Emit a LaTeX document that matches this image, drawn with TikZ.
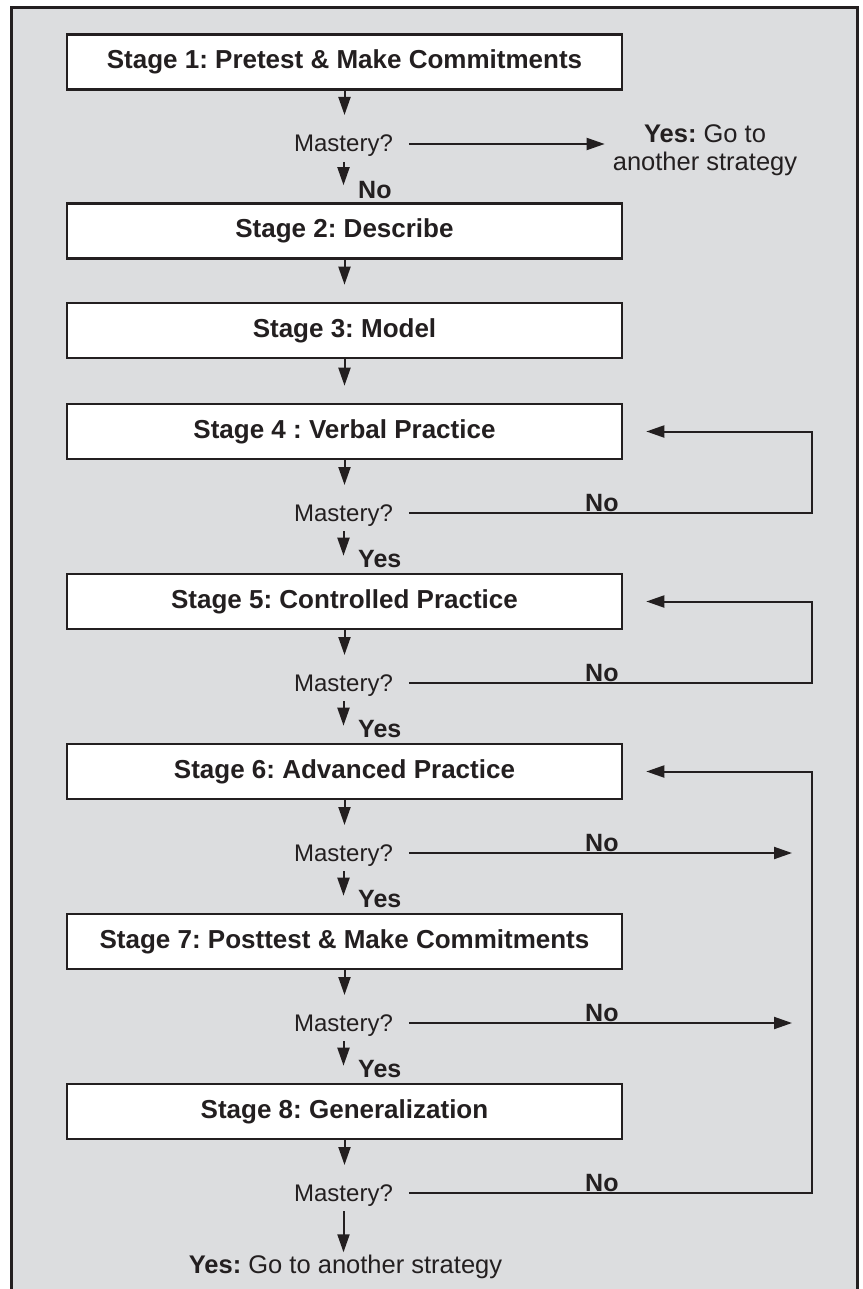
\documentclass[tikz,border=0pt]{standalone}
\usepackage{fontspec}
\setmainfont{Liberation Sans}
\usetikzlibrary{arrows.meta}
\definecolor{bg}{HTML}{DCDDDF}
\definecolor{ink}{HTML}{231F20}
\frenchspacing
\begin{document}
\begin{tikzpicture}[x=1pt,y=-1pt,
  stagebox/.style={draw=ink, line width=2.6pt, fill=white, minimum width=555pt, minimum height=55pt, inner sep=0pt, text=ink, font=\fontsize{26}{30}\selectfont\bfseries},
  mast/.style={anchor=base, inner sep=0pt, outer sep=0pt, text height=17pt, text depth=0pt, text=ink, font=\fontsize{24}{28}\selectfont},
  lbl/.style={anchor=base west, inner sep=0pt, text=ink, font=\fontsize{25}{29}\selectfont\bfseries},
  info/.style={inner sep=0pt, text=ink, align=center, font=\fontsize{25.5}{28}\selectfont},
  ln/.style={draw=ink, line width=2pt},
  arr/.style={ln, -{Triangle[length=18pt,width=12pt]}},
  down/.style={arr, shorten <=10pt, shorten >=17pt},
  into/.style={arr, shorten >=20pt}]
\useasboundingbox (0,0) rectangle (862,1289);
\fill[white] (0,0) rectangle (862,1289);
\fill[bg] (11,8) rectangle (857.5,1289);
\draw[ink, line width=3pt] (11,1289) -- (11,8) -- (857.5,8) -- (857.5,1289);

% stages
\node[stagebox] (s1) at (344.5,62) {Stage 1: Pretest \& Make Commitments};
\node[stagebox] (s2) at (344.5,231) {Stage 2: Describe};
\node[stagebox] (s3) at (344.5,330.5) {Stage 3: Model};
\node[stagebox] (s4) at (344.5,431.5) {Stage 4 : Verbal Practice};
\node[stagebox] (s5) at (344.5,601.5) {Stage 5: Controlled Practice};
\node[stagebox] (s6) at (344.5,771.5) {Stage 6: Advanced Practice};
\node[stagebox] (s7) at (344.5,941.5) {Stage 7: Posttest \& Make Commitments};
\node[stagebox] (s8) at (344.5,1111.5) {Stage 8: Generalization};

% decisions
\node[mast] (m1) at (343.5,152) {Mastery?};
\node[mast] (m4) at (343.5,521) {Mastery?};
\node[mast] (m5) at (343.5,691) {Mastery?};
\node[mast] (m6) at (343.5,861) {Mastery?};
\node[mast] (m7) at (343.5,1031) {Mastery?};
\node[mast] (m8) at (343.5,1201) {Mastery?};

% outcome texts
\node[info] (yes1) at (705,150) {\textbf{Yes:} Go to\\another strategy};
\node[info, anchor=base] (yesend) at (345.5,1273) {\textbf{Yes:} Go to another strategy};

% vertical flow
\draw[into] (s1.south) -- (s1.south |- m1.north);
\draw[down] (m1.south) -- (m1.south |- s2.north);
\node[lbl] (no1) at (358,199) {No};
\draw[arr, shorten >=17pt] (s2.south) -- (s3.north);
\draw[arr, shorten >=17pt] (s3.south) -- (s4.north);
\draw[into, shorten >=19pt] (s4.south) -- (s4.south |- m4.north);
\draw[down] (m4.south) -- (m4.south |- s5.north);
\node[lbl] (y4) at (358,567) {Yes};
\draw[into, shorten >=19pt] (s5.south) -- (s5.south |- m5.north);
\draw[down] (m5.south) -- (m5.south |- s6.north);
\node[lbl] (y5) at (358,737) {Yes};
\draw[into, shorten >=19pt] (s6.south) -- (s6.south |- m6.north);
\draw[down] (m6.south) -- (m6.south |- s7.north);
\node[lbl] (y6) at (358,907) {Yes};
\draw[into, shorten >=19pt] (s7.south) -- (s7.south |- m7.north);
\draw[down] (m7.south) -- (m7.south |- s8.north);
\node[lbl] (y7) at (358,1077) {Yes};
\draw[into, shorten >=19pt] (s8.south) -- (s8.south |- m8.north);
\draw[arr, shorten <=10pt, shorten >=2pt] (m8.south) -- (m8.south |- yesend.north);

% side branches
\coordinate (a1) at ([xshift=16pt,yshift=8pt]m1.base east);
\coordinate (a4) at ([xshift=16pt,yshift=8pt]m4.base east);
\coordinate (a5) at ([xshift=16pt,yshift=8pt]m5.base east);
\coordinate (a6) at ([xshift=16pt,yshift=8pt]m6.base east);
\coordinate (a7) at ([xshift=16pt,yshift=8pt]m7.base east);
\coordinate (a8) at ([xshift=16pt,yshift=8pt]m8.base east);
\coordinate (r4) at (812,431.5);
\coordinate (r5) at (812,601.5);
\coordinate (r6) at (812,771.5);
\coordinate (t6) at (792,853);
\coordinate (t7) at (792,1023);

\draw[arr, shorten >=8pt] (a1) -- (a1 -| yes1.west);
\draw[arr, shorten >=23pt] (a4) -| (r4) -- (s4.east);
\node[lbl] (n4) at (585,511) {No};
\draw[arr, shorten >=23pt] (a5) -| (r5) -- (s5.east);
\node[lbl] (n5) at (585,681) {No};
\draw[arr] (a6) -- (t6);
\node[lbl] (n6) at (585,851) {No};
\draw[arr] (a7) -- (t7);
\node[lbl] (n7) at (585,1021) {No};
\draw[arr, shorten >=23pt] (a8) -| (r6) -- (s6.east);
\node[lbl] (n8) at (585,1191) {No};
\end{tikzpicture}
\end{document}
